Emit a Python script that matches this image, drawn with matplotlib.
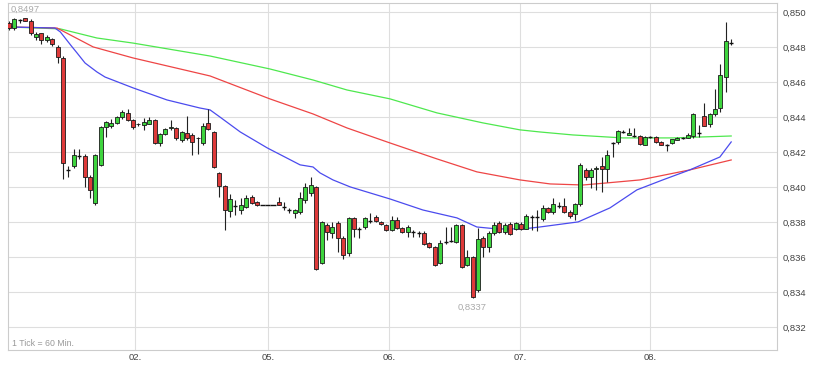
import matplotlib
matplotlib.use("Agg")
import matplotlib.pyplot as plt
from matplotlib.ticker import FuncFormatter

# hourly candles (01. to 08.)
opens = [
    0.8494, 0.8491, 0.84955, 0.8497, 0.8495, 0.8486, 0.8488, 0.8484, 0.8485, 0.8480, 0.8474, 0.8410, 0.8412, 0.8418, 0.8418, 0.8406, 0.8391, 0.8413, 0.84344, 0.8435, 0.8437, 0.8440, 0.84426,
    0.84386, 0.8436, 0.84357, 0.84363, 0.84386, 0.84254, 0.84306, 0.8434, 0.8434, 0.8427, 0.8431, 0.8430, 0.8428, 0.84254, 0.84369, 0.84317, 0.84083, 0.84009, 0.83866, 0.83894, 0.83871, 0.8389, 0.83946,
    0.83917, 0.8390, 0.8390, 0.8390, 0.83917, 0.8389, 0.83871, 0.83854, 0.8386, 0.8393, 0.83966, 0.84003, 0.8357, 0.83786, 0.8374, 0.83797, 0.83711, 0.83626, 0.83826, 0.8376, 0.83774, 0.8381, 0.83831,
    0.83803, 0.83786, 0.83757, 0.83814, 0.83769, 0.83746, 0.83746, 0.8374, 0.83737, 0.8368, 0.8366, 0.8357, 0.83686, 0.83692, 0.83686, 0.83786, 0.83557, 0.8360, 0.83414, 0.8371, 0.8366, 0.8374,
    0.83797, 0.83746, 0.83791, 0.83763, 0.83791, 0.83763, 0.8383, 0.8383, 0.8382, 0.83883, 0.8386, 0.83894, 0.83894, 0.8386, 0.83846, 0.83903, 0.8410, 0.8406, 0.84103, 0.8412, 0.84103, 0.84254,
    0.84257, 0.84317, 0.8430, 0.84295, 0.84294, 0.84243, 0.84289, 0.84289, 0.8426, 0.8424, 0.84254, 0.84271, 0.84283, 0.84283, 0.84294, 0.8431, 0.84409, 0.84363, 0.8442, 0.84454, 0.84633, 0.84826,
]
highs = [
    0.8495, 0.8497, 0.84965, 0.8497, 0.8496, 0.8489, 0.84885, 0.8487, 0.84855, 0.84814, 0.8475, 0.8412, 0.8422, 0.8422, 0.8419, 0.8407, 0.8419, 0.8435, 0.8438, 0.8439, 0.8441, 0.8444, 0.84449,
    0.8439, 0.8437, 0.84397, 0.8440, 0.8439, 0.8431, 0.8434, 0.84386, 0.84346, 0.8432, 0.8441, 0.8431, 0.8429, 0.8437, 0.84449, 0.84325, 0.8409, 0.84015, 0.8396, 0.83929, 0.8394, 0.83957, 0.83957,
    0.8392, 0.8390, 0.8390, 0.8390, 0.83946, 0.83915, 0.83883, 0.83875, 0.83976, 0.84026, 0.8406, 0.8401, 0.83806, 0.83795, 0.83805, 0.8381, 0.8372, 0.8383, 0.8383, 0.83775, 0.8383, 0.83854, 0.83843,
    0.8381, 0.8379, 0.83837, 0.8383, 0.83775, 0.83786, 0.83757, 0.8375, 0.8375, 0.83686, 0.83665, 0.83697, 0.83774, 0.83774, 0.8379, 0.8379, 0.83643, 0.8361, 0.83769, 0.8372, 0.8375, 0.8380,
    0.8381, 0.83795, 0.8380, 0.83805, 0.8380, 0.8385, 0.83843, 0.83871, 0.8390, 0.8389, 0.8394, 0.83919, 0.8394, 0.8387, 0.8391, 0.8414, 0.8411, 0.8411, 0.8412, 0.84174, 0.84214, 0.84257,
    0.84326, 0.84329, 0.8434, 0.8434, 0.8430, 0.84294, 0.84295, 0.84295, 0.84265, 0.84246, 0.84265, 0.84286, 0.8429, 0.8431, 0.84426, 0.84357, 0.84485, 0.84425, 0.84563, 0.84706, 0.84945, 0.84849,
]
lows = [
    0.8490, 0.8490, 0.8494, 0.8495, 0.8487, 0.8484, 0.8482, 0.8483, 0.8481, 0.8471, 0.8405, 0.8406, 0.8411, 0.8416, 0.8400, 0.8394, 0.8390, 0.8412, 0.8429, 0.8434, 0.8436, 0.8439, 0.8438,
    0.84334, 0.8435, 0.84329, 0.8436, 0.8425, 0.84237, 0.8430, 0.8433, 0.8427, 0.8426, 0.8427, 0.84186, 0.8419, 0.8424, 0.8433, 0.8411, 0.83946, 0.83757, 0.8383, 0.83843, 0.83846, 0.8388, 0.83905,
    0.83895, 0.8390, 0.8390, 0.8390, 0.8390, 0.8387, 0.83854, 0.83826, 0.8385, 0.8391, 0.8395, 0.83529, 0.8356, 0.8370, 0.8371, 0.8363, 0.8359, 0.8361, 0.83717, 0.8371, 0.8376, 0.83797, 0.8380,
    0.83786, 0.8375, 0.8375, 0.8376, 0.8374, 0.83719, 0.83717, 0.83715, 0.8367, 0.83655, 0.8355, 0.8356, 0.83674, 0.83686, 0.8368, 0.8354, 0.8355, 0.8337, 0.8340, 0.8360, 0.8363, 0.8373,
    0.8374, 0.83735, 0.83729, 0.83757, 0.83757, 0.8376, 0.83757, 0.83753, 0.8381, 0.83855, 0.8385, 0.83883, 0.83855, 0.83826, 0.83814, 0.83895, 0.84043, 0.83997, 0.83986, 0.83974, 0.84033, 0.84174,
    0.8425, 0.84309, 0.84297, 0.8429, 0.8424, 0.8424, 0.8428, 0.84255, 0.8424, 0.84211, 0.8425, 0.8427, 0.84275, 0.8428, 0.8428, 0.84289, 0.8435, 0.84347, 0.8441, 0.8443, 0.84547, 0.84814,
]
closes = [
    0.8491, 0.8496, 0.84955, 0.8495, 0.8488, 0.84877, 0.8484, 0.8486, 0.8482, 0.84746, 0.8414, 0.8410, 0.84186, 0.8418, 0.8406, 0.83986, 0.84186, 0.84346, 0.84373, 0.8437, 0.8440, 0.8443, 0.84386,
    0.84346, 0.84363, 0.84374, 0.84386, 0.84254, 0.84306, 0.84334, 0.84343, 0.84283, 0.84317, 0.84283, 0.8426, 0.84285, 0.84351, 0.84334, 0.84117, 0.84009, 0.83871, 0.83934, 0.83894, 0.8390, 0.8394, 0.83911,
    0.8390, 0.8390, 0.8390, 0.8390, 0.8390, 0.8389, 0.83871, 0.83871, 0.8394, 0.8400, 0.84014, 0.83534, 0.83803, 0.83746, 0.83774, 0.83711, 0.83614, 0.83826, 0.83763, 0.8376, 0.83826, 0.8381, 0.83809,
    0.83791, 0.83757, 0.83814, 0.83769, 0.83746, 0.83774, 0.83746, 0.8374, 0.83674, 0.8366, 0.83557, 0.8368, 0.83686, 0.83692, 0.83786, 0.83546, 0.83603, 0.83375, 0.83706, 0.8366, 0.8374, 0.83786,
    0.83746, 0.83786, 0.83734, 0.83797, 0.83763, 0.83837, 0.8383, 0.8383, 0.83883, 0.8386, 0.83906, 0.83894, 0.8386, 0.83837, 0.83903, 0.84131, 0.8406, 0.8410, 0.84111, 0.84106, 0.84186, 0.84254,
    0.84323, 0.84317, 0.84313, 0.84295, 0.84246, 0.84289, 0.84289, 0.8426, 0.84243, 0.8424, 0.84277, 0.84283, 0.84283, 0.8430, 0.8442, 0.8431, 0.84351, 0.8442, 0.84449, 0.84643, 0.84838, 0.84826,
]

# moving averages, sampled off the chart (candle index, value)
fast_idx = [0, 8.5, 9.5, 11.7, 12.6, 14.1, 16.3, 17.8, 23, 29.3, 35.4, 37.3, 39.1, 42.9, 47.9, 54, 56.4, 57.7,
            60.1, 63.3, 70.7, 76.8, 83.1, 86.8, 90.5, 95.4, 98.5, 105.6, 111.5, 116.5, 121.3, 126.3, 131.9, 134]
fast_ma = [0.84917, 0.84911, 0.84889, 0.84803, 0.84769, 0.84711, 0.8466, 0.84631, 0.84569, 0.8450, 0.84454, 0.84443,
           0.84403, 0.84317, 0.84226, 0.84129, 0.84117, 0.84083, 0.84043, 0.84003, 0.83934, 0.83871, 0.83826, 0.83774,
           0.83763, 0.83763, 0.83774, 0.83803, 0.83883, 0.83986, 0.84043, 0.8410, 0.84174, 0.8426]
mid_idx = [0, 8.9, 15.6, 23, 37.3, 48.4, 56.4, 62.7, 70.7, 79.4, 86.8, 94.8, 100.4, 106.5, 111, 117.1, 126.3, 134]
mid_ma = [0.84917, 0.84911, 0.84803, 0.8474, 0.84637, 0.84506, 0.8442, 0.8434, 0.84254, 0.84163, 0.84089, 0.84043,
          0.8402, 0.84014, 0.84026, 0.84043, 0.8410, 0.84157]
slow_idx = [0, 9.5, 16.3, 23, 37.3, 48.4, 56.4, 62.7, 70.7, 79.4, 87.9, 94.8, 98.5, 104.6, 113.9, 123.2, 134]
slow_ma = [0.84917, 0.84906, 0.84854, 0.84825, 0.84751, 0.84677, 0.84614, 0.84557, 0.84506, 0.84426, 0.84369, 0.84329,
           0.84317, 0.8430, 0.84283, 0.84283, 0.84294]

day_labels = ["02.", "05.", "06.", "07.", "08."]
day_pos = [23.4, 48.0, 70.5, 94.9, 118.9]
price_ticks = [0.832, 0.834, 0.836, 0.838, 0.840, 0.842, 0.844, 0.846, 0.848, 0.850]

assert len(opens) == len(highs) == len(lows) == len(closes)

plt.rcParams["font.family"] = ["Liberation Sans", "DejaVu Sans"]

fig = plt.figure(figsize=(8.17, 3.65), dpi=100)
ax = fig.add_axes([8 / 817, 1 - 350 / 365, 769 / 817, 347 / 365])

# grid first, so candles sit on top
ax.set_axisbelow(True)
ax.grid(True, color="#dedede", linewidth=0.8)

ax.plot(slow_idx, slow_ma, color="#4ee84e", linewidth=0.9, zorder=2)
ax.plot(mid_idx, mid_ma, color="#ee4545", linewidth=0.9, zorder=2)
ax.plot(fast_idx, fast_ma, color="#4b4bee", linewidth=0.9, zorder=2)

w = 0.75
for i, (o, h, l, c) in enumerate(zip(opens, highs, lows, closes)):
    if h > l:
        ax.vlines(i, l, h, color="#222222", linewidth=0.8, zorder=3)
    if c == o:
        half = 0.5 if h == l else w / 2
        ax.hlines(o, i - half, i + half, color="#111111", linewidth=1.0, zorder=4)
    else:
        col = "#3ed43e" if c > o else "#de3a3a"
        ax.bar(i, abs(c - o), bottom=min(o, c), width=w, color=col,
               edgecolor="#1a1a1a", linewidth=0.6, zorder=4)

ax.set_xlim(-0.2, 142.5)
ax.set_ylim(0.83071, 0.85054)

ax.set_xticks(day_pos)
ax.set_xticklabels(day_labels)
ax.set_yticks(price_ticks)
ax.yaxis.set_major_formatter(FuncFormatter(lambda v, p: f"{v:.3f}".replace(".", ",")))
ax.yaxis.tick_right()
ax.tick_params(axis="both", length=0, labelsize=6.8, labelcolor="#444444")
ax.tick_params(axis="y", pad=4)
ax.tick_params(axis="x", pad=2)

for s in ax.spines.values():
    s.set_color("#cccccc")
    s.set_linewidth(0.8)

# high / low labels
hi = max(highs)
lo = min(lows)
ax.annotate(f"{hi:.4f}".replace(".", ","), (highs.index(hi), hi), xytext=(-3, 6),
            textcoords="offset points", ha="left", va="center", fontsize=6.8, color="#aaaaaa")
ax.annotate(f"{lo:.4f}".replace(".", ","), (lows.index(lo), lo), xytext=(0, -7),
            textcoords="offset points", ha="center", va="center", fontsize=6.8, color="#aaaaaa")

ax.text(0.005, 0.018, "1 Tick = 60 Min.", transform=ax.transAxes, ha="left", va="center",
        fontsize=6.3, color="#999999")

fig.savefig("out.png", dpi=100)
